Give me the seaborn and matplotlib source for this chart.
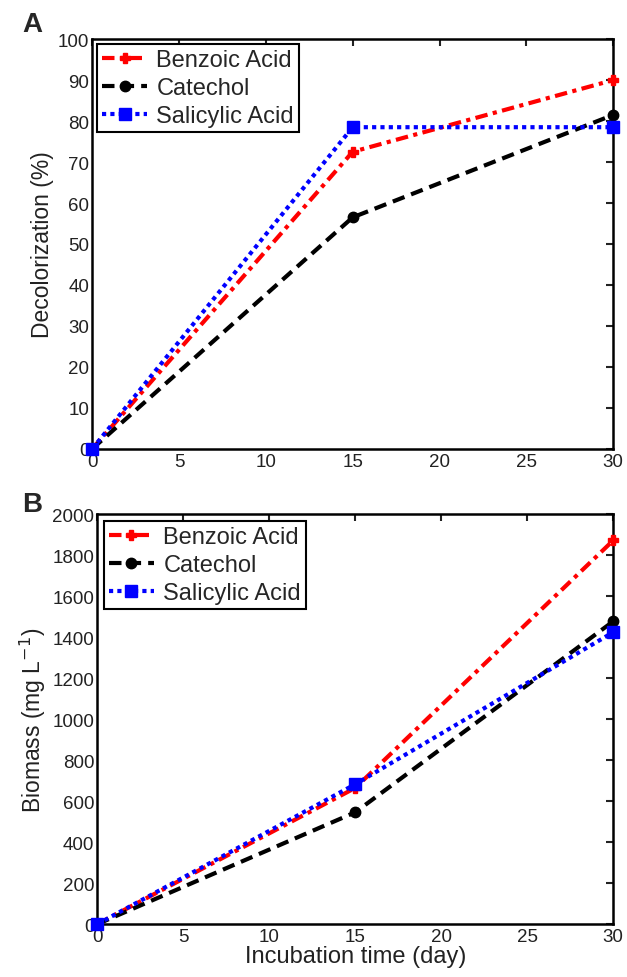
import matplotlib
matplotlib.use("Agg")
import matplotlib.pyplot as plt
import seaborn as sns
import pandas as pd

sns.set_theme(style="white")
plt.rcParams['font.family'] = ['Liberation Sans', 'DejaVu Sans']

days = [0, 15, 30]
series = ["Benzoic Acid", "Catechol", "Salicylic Acid"]
decol_benzoic = [0, 72.5, 90]
decol_catechol = [0, 56.5, 81.5]
decol_salicylic = [0, 78.5, 78.5]
bio_benzoic = [0, 665, 1873]
bio_catechol = [0, 546, 1478]
bio_salicylic = [0, 683, 1425]
xticks = [0, 5, 10, 15, 20, 25, 30]

colors = {"Benzoic Acid": "#ff0000", "Catechol": "#000000", "Salicylic Acid": "#0000ff"}
styles = {"Benzoic Acid": (0, (3, 1.3, 1, 1.3)), "Catechol": (0, (3, 1.7)), "Salicylic Acid": (0, (1, 1))}
markers = {"Benzoic Acid": "P", "Catechol": "o", "Salicylic Acid": "s"}
msizes = {"Benzoic Acid": 7, "Catechol": 7.5, "Salicylic Acid": 8.5}
mfaces = {"Benzoic Acid": "#ff0000", "Catechol": "#000000", "Salicylic Acid": "#0000ff"}
medges = {"Benzoic Acid": 1, "Catechol": 1, "Salicylic Acid": 1}

fig = plt.figure(figsize=(6.27, 9.78), dpi=100)
axA = fig.add_axes([0.147, 0.540, 0.831, 0.419])
axB = fig.add_axes([0.155, 0.054, 0.823, 0.419])

def draw(ax, vals, pad):
    for name, v in zip(series, vals):
        df = pd.DataFrame({"x": days, "y": v})
        sns.lineplot(data=df, x="x", y="y", ax=ax, color=colors[name], lw=3,
                     linestyle=styles[name], marker=markers[name],
                     markersize=msizes[name], markeredgecolor=colors[name],
                     markerfacecolor=mfaces[name], markeredgewidth=medges[name],
                     label=name, clip_on=False, zorder=3)
    ax.set_xlim(0, 30)
    ax.set_xticks(xticks)
    ax.tick_params(direction="in", top=True, right=True, labelsize=13.5,
                   length=5, width=1.5, colors="#222222", pad=2)
    ax.tick_params(axis="x", pad=3)
    for s in ax.spines.values():
        s.set_linewidth(1.8)
        s.set_color("black")
    leg = ax.legend(loc="upper left", fontsize=17, frameon=True, fancybox=False,
                    edgecolor="black", framealpha=1, handlelength=1.9,
                    borderpad=0.2, labelspacing=0.25, handletextpad=0.4,
                    borderaxespad=pad)
    leg.get_frame().set_linewidth(1.5)
    leg.set_zorder(5)
    ax.set_xlabel("")

draw(axA, [decol_benzoic, decol_catechol, decol_salicylic], 0.22)
axA.set_ylim(0, 100)
axA.set_yticks(range(0, 101, 10))
axA.set_ylabel("Decolorization (%)", fontsize=16.5, color="#222222", labelpad=3)

draw(axB, [bio_benzoic, bio_catechol, bio_salicylic], 0.3)
axB.set_ylim(0, 2000)
axB.set_yticks(range(0, 2001, 200))
axB.set_ylabel("Biomass (mg L$^{-1}$)", fontsize=16.5, color="#222222", labelpad=3)
axB.set_xlabel("Incubation time (day)", fontsize=17, color="#222222", labelpad=0)

fig.text(22 / 627, 1 - 25 / 978, "A", fontsize=20, fontweight="bold", va="center", ha="left")
fig.text(22 / 627, 1 - 505 / 978, "B", fontsize=20, fontweight="bold", va="center", ha="left")

fig.savefig("out.png", dpi=100)
